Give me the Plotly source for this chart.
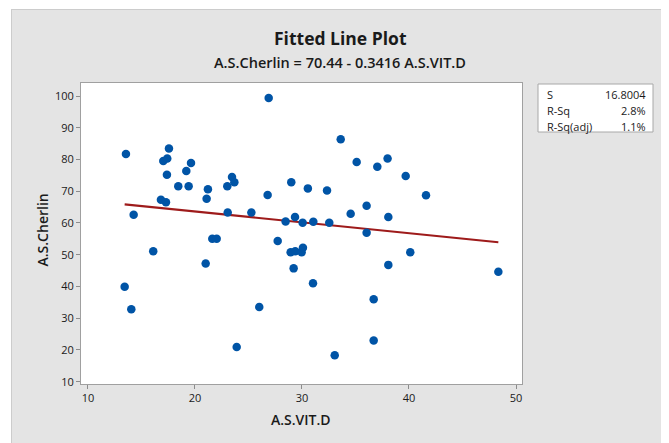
import plotly.graph_objects as go

# Data
vit_d = [13.55, 17.57, 17.04, 17.41, 19.63, 19.19, 17.38, 18.44, 19.41, 21.21,
         21.09, 23.02, 23.46, 23.68, 16.82, 17.29, 14.27, 23.06, 25.27, 26.79,
         26.89, 29.00, 30.55, 29.35, 28.47, 30.06, 27.73, 21.62, 22.03, 16.10,
         21.00, 28.94, 29.37, 29.97, 30.09, 29.22, 13.43, 14.05, 26.01, 23.90,
         33.62, 35.11, 37.04, 38.00, 39.69, 41.59, 32.34, 36.04, 34.55, 38.07,
         31.06, 32.55, 36.04, 40.12, 38.07, 31.03, 36.70, 36.70, 33.06, 48.35]
cherlin = [81.7, 83.5, 79.5, 80.3, 78.9, 76.4, 75.2, 71.6, 71.6, 70.6,
           67.6, 71.6, 74.5, 72.8, 67.3, 66.5, 62.6, 63.3, 63.3, 68.8,
           99.4, 72.8, 70.9, 61.9, 60.5, 60.1, 54.3, 55.0, 55.0, 51.1,
           47.2, 50.8, 51.1, 50.8, 52.2, 45.7, 39.9, 32.8, 33.5, 20.9,
           86.4, 79.2, 77.7, 80.3, 74.8, 68.7, 70.2, 65.4, 62.9, 61.9,
           60.4, 60.1, 56.9, 50.8, 46.8, 41.0, 36.0, 23.0, 18.3, 44.6]
intercept = 70.44
slope = -0.3416
stat_labels = ["S", "R-Sq", "R-Sq(adj)"]
stat_values = ["16.8004", "2.8%", "1.1%"]
x_ticks = [10, 20, 30, 40, 50]
y_ticks = [10, 20, 30, 40, 50, 60, 70, 80, 90, 100]

# page has an 8px body margin; figure is placed at (8, 8)
OFF = 8
PAGE_W, PAGE_H = 669, 443
W, H = PAGE_W - OFF, PAGE_H - OFF
PL, PR, PT, PB = 81, 522, 83, 384  # plot area in page pixels
L, T = PL - OFF, PT - OFF
R, B = W - (PR - OFF), H - (PB - OFF)
PW, PH = PR - PL, PB - PT


def px(x):
    return (x - PL) / PW


def py(y):
    return (PB - y) / PH


FONT = "Open Sans"
fit_x = [min(vit_d), max(vit_d)]
fit_y = [intercept + slope * v for v in fit_x]

fig = go.Figure()
fig.add_trace(go.Scatter(x=fit_x, y=fit_y, mode="lines",
                         line=dict(color="#9E1B1B", width=2.2), hoverinfo="skip"))
fig.add_trace(go.Scatter(x=vit_d, y=cherlin, mode="markers",
                         marker=dict(color="#0054A6", size=8.5, line=dict(width=0))))

shapes = [
    # white outer strips
    dict(type="rect", xref="paper", yref="paper", x0=px(0), x1=px(11), y0=py(PAGE_H + 5), y1=py(0),
         fillcolor="white", line=dict(width=0), layer="below"),
    dict(type="rect", xref="paper", yref="paper", x0=px(0), x1=px(PAGE_W + 5), y0=py(9), y1=py(0),
         fillcolor="white", line=dict(width=0), layer="below"),
    dict(type="line", xref="paper", yref="paper", x0=px(11), x1=px(PAGE_W + 5), y0=py(9.5), y1=py(9.5),
         line=dict(color="#cccccc", width=1)),
    dict(type="line", xref="paper", yref="paper", x0=px(11.5), x1=px(11.5), y0=py(9), y1=py(PAGE_H + 5),
         line=dict(color="#cccccc", width=1)),
    # stats box
    dict(type="rect", xref="paper", yref="paper", x0=px(538), x1=px(653), y0=py(132), y1=py(84),
         fillcolor="white", line=dict(color="#a8a8a8", width=1)),
]

ann = [
    dict(text="Fitted Line Plot", x=px(340), y=py(38), font=dict(size=17.5, weight=700)),
    dict(text="A.S.Cherlin = 70.44 - 0.3416 A.S.VIT.D", x=px(340), y=py(62), font=dict(size=14.5, weight=600)),
    dict(text="A.S.VIT.D", x=px(300.5), y=py(420), font=dict(size=14, weight=600)),
    dict(text="A.S.Cherlin", x=px(41.5), y=py(230), font=dict(size=14, weight=600), textangle=-90),
]
rows_y = [94, 110.5, 126]
for lab, val, ry in zip(stat_labels, stat_values, rows_y):
    ann.append(dict(text=lab, x=px(545), y=py(ry), xanchor="left", font=dict(size=11)))
    ann.append(dict(text=val, x=px(647.5), y=py(ry), xanchor="right", font=dict(size=11)))
for a in ann:
    a.setdefault("xanchor", "center")
    a.update(xref="paper", yref="paper", yanchor="middle", showarrow=False)
    a["font"].update(family=FONT, color="#1a1a1a")

axis_common = dict(showgrid=False, zeroline=False, showline=True, mirror=True,
                   linecolor="#a0a0a0", linewidth=1, ticks="outside", ticklen=4,
                   tickcolor="#8c8c8c", tickfont=dict(family=FONT, size=11, color="#1a1a1a"))
fig.update_xaxes(range=[9.35, 50.56], tickvals=x_ticks, **axis_common)
fig.update_yaxes(range=[9.27, 104.1], tickvals=y_ticks, **axis_common)

fig.update_layout(width=W, height=H, margin=dict(l=L, r=R, t=T, b=B, pad=0),
                  paper_bgcolor="#e4e4e4", plot_bgcolor="white", showlegend=False,
                  shapes=shapes, annotations=ann, font=dict(family=FONT))
fig.write_html("out.html")
